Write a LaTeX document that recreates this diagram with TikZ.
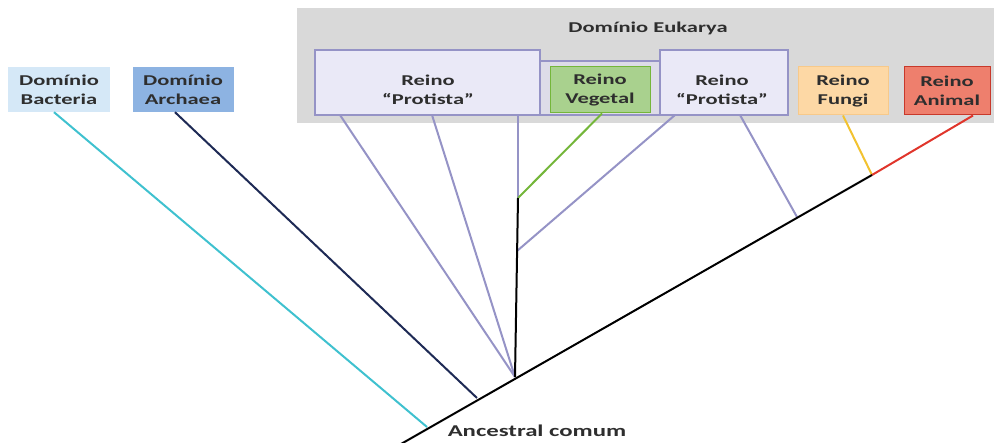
\documentclass[tikz,border=0pt]{standalone}
\usepackage{fontspec}
\setmainfont{Carlito}[FakeStretch=1.5]
\usetikzlibrary{positioning,calc}
\definecolor{bactfill}{HTML}{D5E8F7}
\definecolor{archfill}{HTML}{8DB3E2}
\definecolor{eukgray}{HTML}{D9D9D9}
\definecolor{protfill}{HTML}{EAE9F7}
\definecolor{protline}{HTML}{9593C6}
\definecolor{vegframe}{HTML}{DDDCE8}
\definecolor{vegfill}{HTML}{A9D18E}
\definecolor{vegline}{HTML}{74B63A}
\definecolor{fungfill}{HTML}{FDD8A5}
\definecolor{fungline}{HTML}{F7C98A}
\definecolor{fungbranch}{HTML}{F2C230}
\definecolor{animfill}{HTML}{EE7F6D}
\definecolor{animline}{HTML}{C8392B}
\definecolor{animbranch}{HTML}{E0352B}
\definecolor{bactline}{HTML}{3FC1CF}
\definecolor{archline}{HTML}{1E2A55}
\definecolor{txt}{HTML}{2E2E2E}
\tikzstyle{taxon} = [rectangle, minimum height=46pt, inner sep=0pt, align=center,
    text=txt, font=\fontsize{15}{19}\selectfont\bfseries]
\tikzstyle{branch} = [line width=2pt]

\begin{document}
\begin{tikzpicture}[x=1pt,y=-1pt]
\useasboundingbox (0,0) rectangle (994,443);

% Eukarya domain
\fill[eukgray] (297,8) rectangle (994,123);
\node (euk) [taxon, minimum height=0pt] at (648,28) {Domínio Eukarya};
\draw[protline, fill=protfill, line width=1.2pt]
    (315,50) -- (540,50) -- (540,61) -- (660,61) -- (660,50) -- (788,50) -- (788,115) -- (315,115) -- cycle;
\draw[protline, fill=vegframe, line width=1.2pt] (540,61) rectangle (660,115);

\node (protl) [taxon, minimum height=0pt] at (428,90) {Reino\\“Protista”};
\node (veg) [taxon, fill=vegfill, draw=vegline, line width=1pt, minimum width=100pt] at (600,90) {Reino\\Vegetal};
\node (protr) [taxon, minimum height=0pt] at (722,90) {Reino\\“Protista”};
\node (fungi) [taxon, fill=fungfill, draw=fungline, line width=1pt, minimum width=90pt, minimum height=48pt] at (843,91) {Reino\\Fungi};
\node (anim) [taxon, fill=animfill, draw=animline, line width=1pt, minimum width=86pt, minimum height=48pt] at (947,91) {Reino\\Animal};

% other domains
\node (bact) [taxon, fill=bactfill, minimum width=102pt, minimum height=45pt] at (59,89.5) {Domínio\\Bacteria};
\node (arch) [taxon, fill=archfill, minimum width=101pt, minimum height=45pt] at (183,89.5) {Domínio\\Archaea};

\node (anc) [text=txt, font=\fontsize{16.5}{19}\selectfont\bfseries] at (537,431) {Ancestral comum};

% branch points
\coordinate (root) at (401,444);
\coordinate (jb) at (427,427);
\coordinate (ja) at (477,398);
\coordinate (jf) at (515,377);
\coordinate (jp) at (797,217);
\coordinate (jfa) at (872,175);
\coordinate (jv2) at (517,251);
\coordinate (jv1) at (518,198);
\coordinate (p1) at (340,115);
\coordinate (p2) at (432,115);
\coordinate (p3) at (518,115);
\coordinate (p4) at (675,115);
\coordinate (p5) at (740,115);

% tree
\draw[branch, bactline] ($(bact.south)+(-5,0)$) -- (jb);
\draw[branch, archline] ($(arch.south)+(-8,0)$) -- (ja);
\draw[branch, protline] (p1) -- (jf);
\draw[branch, protline] (p2) -- (jf);
\draw[branch, protline] (p3) -- (jv1);
\draw[branch, vegline] ($(veg.south)+(2,0)$) -- (jv1);
\draw[branch, protline] (p4) -- (jv2);
\draw[branch, protline] (p5) -- (jp);
\draw[branch, fungbranch] (fungi.south) -- (jfa);
\draw[branch, animbranch] ($(anim.south)+(26,0)$) -- (jfa);
\draw[branch] (jf) -- (jv1);
\draw[branch] (root) -- (jfa);
\end{tikzpicture}
\end{document}
